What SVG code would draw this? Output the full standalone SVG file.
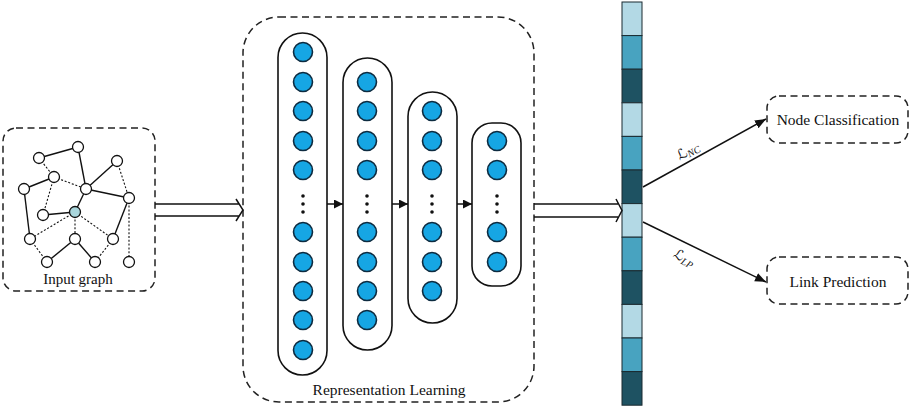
<svg xmlns="http://www.w3.org/2000/svg" width="911" height="408" viewBox="0 0 911 408">
<defs>
<style>
.dbox{fill:none;stroke:#222;stroke-width:1.5;stroke-dasharray:7,4.5}
.pill{fill:#fff;stroke:#111;stroke-width:1.6}
.neu{fill:#16a6e4;stroke:#0d2b40;stroke-width:1.6}
.dot{fill:#111}
.gn{fill:#fff;stroke:#111;stroke-width:1.3}
.gh{fill:#a9d6dc;stroke:#111;stroke-width:1.3}
.se{stroke:#111;stroke-width:1.4;fill:none}
.de{stroke:#111;stroke-width:1.1;fill:none;stroke-dasharray:2,1.8}
.lbl{font-family:"Liberation Serif","Times New Roman",serif;fill:#111}
.sym{font-family:"DejaVu Sans","Noto Sans",sans-serif;fill:#111}
.ln{stroke:#111;stroke-width:1.5;fill:none}
.cl{stroke:#1a2a30;stroke-width:1}
.c1{fill:#b3d9e5}
.c2{fill:#48a3c0}
.c3{fill:#1e5262}
</style>
<marker id="ah" viewBox="0 0 10 10" refX="10" refY="5" markerWidth="9" markerHeight="9" markerUnits="userSpaceOnUse" orient="auto">
<path d="M0,0 L10,5 L0,10 Z" fill="#111"/>
</marker>
<marker id="ah2" viewBox="0 0 10 10" refX="10" refY="5" markerWidth="11" markerHeight="11" markerUnits="userSpaceOnUse" orient="auto">
<path d="M0,1 L10,5 L0,9 Z" fill="#111"/>
</marker>
</defs>
<rect width="911" height="408" fill="#fff"/>

<g id="input-graph">
<rect class="dbox" x="3" y="128" width="152" height="163" rx="13"/>
<g id="graph-edges">
<line class="se" x1="39" y1="158" x2="78" y2="147"/>
<line class="se" x1="78" y1="147" x2="86" y2="189"/>
<line class="de" x1="39" y1="158" x2="54" y2="177"/>
<line class="se" x1="117" y1="161" x2="86" y2="189"/>
<line class="de" x1="117" y1="161" x2="129" y2="198"/>
<line class="se" x1="54" y1="177" x2="24" y2="189"/>
<line class="de" x1="54" y1="177" x2="86" y2="189"/>
<line class="de" x1="54" y1="177" x2="43" y2="215"/>
<line class="se" x1="24" y1="189" x2="30" y2="239"/>
<line class="se" x1="86" y1="189" x2="129" y2="198"/>
<line class="se" x1="86" y1="189" x2="75" y2="212"/>
<line class="se" x1="43" y1="215" x2="75" y2="212"/>
<line class="de" x1="75" y1="212" x2="30" y2="239"/>
<line class="de" x1="75" y1="212" x2="75" y2="239"/>
<line class="de" x1="75" y1="212" x2="113" y2="239"/>
<line class="se" x1="129" y1="198" x2="113" y2="239"/>
<line class="de" x1="129" y1="198" x2="129" y2="262"/>
<line class="de" x1="30" y1="239" x2="47" y2="262"/>
<line class="se" x1="75" y1="239" x2="47" y2="262"/>
<line class="se" x1="75" y1="239" x2="95" y2="262"/>
<line class="de" x1="113" y1="239" x2="95" y2="262"/>
</g>
<g id="graph-nodes">
<circle class="gn" cx="39" cy="158" r="5.5"/>
<circle class="gn" cx="78" cy="147" r="5.5"/>
<circle class="gn" cx="117" cy="161" r="5.5"/>
<circle class="gn" cx="54" cy="177" r="5.5"/>
<circle class="gn" cx="24" cy="189" r="5.5"/>
<circle class="gn" cx="86" cy="189" r="5.5"/>
<circle class="gn" cx="129" cy="198" r="5.5"/>
<circle class="gn" cx="43" cy="215" r="5.5"/>
<circle class="gh" cx="75" cy="212" r="5.5"/>
<circle class="gn" cx="30" cy="239" r="5.5"/>
<circle class="gn" cx="75" cy="239" r="5.5"/>
<circle class="gn" cx="113" cy="239" r="5.5"/>
<circle class="gn" cx="47" cy="262" r="5.5"/>
<circle class="gn" cx="95" cy="262" r="5.5"/>
<circle class="gn" cx="129" cy="262" r="5.5"/>
</g>
<text class="lbl" x="78" y="284" font-size="15" text-anchor="middle">Input graph</text>
</g>

<g id="representation-learning">
<rect class="dbox" x="243" y="17" width="291" height="385" rx="36"/>
<text class="lbl" x="389" y="395" font-size="15.5" text-anchor="middle">Representation Learning</text>
<g id="layer1">
<rect class="pill" x="278" y="33" width="49" height="342" rx="24.5"/>
<circle class="neu" cx="303" cy="52" r="9.5"/>
<circle class="neu" cx="303" cy="82" r="9.5"/>
<circle class="neu" cx="303" cy="111" r="9.5"/>
<circle class="neu" cx="303" cy="141" r="9.5"/>
<circle class="neu" cx="303" cy="170" r="9.5"/>
<circle class="dot" cx="303" cy="196" r="1.8"/>
<circle class="dot" cx="303" cy="204" r="1.8"/>
<circle class="dot" cx="303" cy="212" r="1.8"/>
<circle class="neu" cx="303" cy="232" r="9.5"/>
<circle class="neu" cx="303" cy="262" r="9.5"/>
<circle class="neu" cx="303" cy="291" r="9.5"/>
<circle class="neu" cx="303" cy="320" r="9.5"/>
<circle class="neu" cx="303" cy="350" r="9.5"/>
</g>
<g id="layer2">
<rect class="pill" x="343" y="58" width="49" height="292" rx="24.5"/>
<circle class="neu" cx="367" cy="82" r="9.5"/>
<circle class="neu" cx="367" cy="111" r="9.5"/>
<circle class="neu" cx="367" cy="141" r="9.5"/>
<circle class="neu" cx="367" cy="170" r="9.5"/>
<circle class="dot" cx="367" cy="196" r="1.8"/>
<circle class="dot" cx="367" cy="204" r="1.8"/>
<circle class="dot" cx="367" cy="212" r="1.8"/>
<circle class="neu" cx="367" cy="232" r="9.5"/>
<circle class="neu" cx="367" cy="262" r="9.5"/>
<circle class="neu" cx="367" cy="291" r="9.5"/>
<circle class="neu" cx="367" cy="320" r="9.5"/>
</g>
<g id="layer3">
<rect class="pill" x="408" y="92" width="49" height="231" rx="24.5"/>
<circle class="neu" cx="432" cy="111" r="9.5"/>
<circle class="neu" cx="432" cy="141" r="9.5"/>
<circle class="neu" cx="432" cy="170" r="9.5"/>
<circle class="dot" cx="432" cy="196" r="1.8"/>
<circle class="dot" cx="432" cy="204" r="1.8"/>
<circle class="dot" cx="432" cy="212" r="1.8"/>
<circle class="neu" cx="432" cy="232" r="9.5"/>
<circle class="neu" cx="432" cy="262" r="9.5"/>
<circle class="neu" cx="432" cy="291" r="9.5"/>
</g>
<g id="layer4">
<rect class="pill" x="472" y="123" width="49" height="163" rx="20"/>
<circle class="neu" cx="497" cy="141" r="9.5"/>
<circle class="neu" cx="497" cy="170" r="9.5"/>
<circle class="dot" cx="497" cy="196" r="1.8"/>
<circle class="dot" cx="497" cy="204" r="1.8"/>
<circle class="dot" cx="497" cy="212" r="1.8"/>
<circle class="neu" cx="497" cy="232" r="9.5"/>
<circle class="neu" cx="497" cy="262" r="9.5"/>
</g>
</g>

<g id="embedding">
<rect class="c1 cl" x="622" y="2" width="20" height="33.6"/>
<rect class="c2 cl" x="622" y="35.6" width="20" height="33.6"/>
<rect class="c3 cl" x="622" y="69.2" width="20" height="33.6"/>
<rect class="c1 cl" x="622" y="102.8" width="20" height="33.6"/>
<rect class="c2 cl" x="622" y="136.4" width="20" height="33.6"/>
<rect class="c3 cl" x="622" y="170" width="20" height="33.6"/>
<rect class="c1 cl" x="622" y="203.6" width="20" height="33.6"/>
<rect class="c2 cl" x="622" y="237.2" width="20" height="33.6"/>
<rect class="c3 cl" x="622" y="270.8" width="20" height="33.6"/>
<rect class="c1 cl" x="622" y="304.4" width="20" height="33.6"/>
<rect class="c2 cl" x="622" y="338" width="20" height="33.6"/>
<rect class="c3 cl" x="622" y="371.6" width="20" height="33.6"/>
</g>

<g id="node-classification">
<rect class="dbox" x="767" y="96" width="141" height="47" rx="12"/>
<text class="lbl" x="838" y="125" font-size="15.5" text-anchor="middle">Node Classification</text>
</g>
<g id="link-prediction">
<rect class="dbox" x="767" y="257" width="141" height="47" rx="12"/>
<text class="lbl" x="838" y="287" font-size="15.5" text-anchor="middle">Link Prediction</text>
</g>

<g id="connectors">
<path class="ln" d="M155,204 H239 M155,216 H239 M236,199 L243,210 L236,221"/>
<path class="ln" d="M534,204 H618 M534,217 H618 M616,199 L622,210.5 L616,222"/>
<line class="ln" x1="327" y1="204" x2="343" y2="204" marker-end="url(#ah)"/>
<line class="ln" x1="392" y1="204" x2="408" y2="204" marker-end="url(#ah)"/>
<line class="ln" x1="457" y1="204" x2="472" y2="204" marker-end="url(#ah)"/>
<line class="ln" x1="643" y1="187" x2="766" y2="119" marker-end="url(#ah2)"/>
<line class="ln" x1="643" y1="222" x2="766" y2="282" marker-end="url(#ah2)"/>
<text class="sym" transform="translate(690,155) rotate(-28)" font-size="14" text-anchor="middle">ℒ<tspan class="lbl" font-size="10" font-style="italic" dy="2">NC</tspan></text>
<text class="sym" transform="translate(682,262) rotate(30)" font-size="14" text-anchor="middle">ℒ<tspan class="lbl" font-size="10" font-style="italic" dy="2">LP</tspan></text>
</g>
</svg>
